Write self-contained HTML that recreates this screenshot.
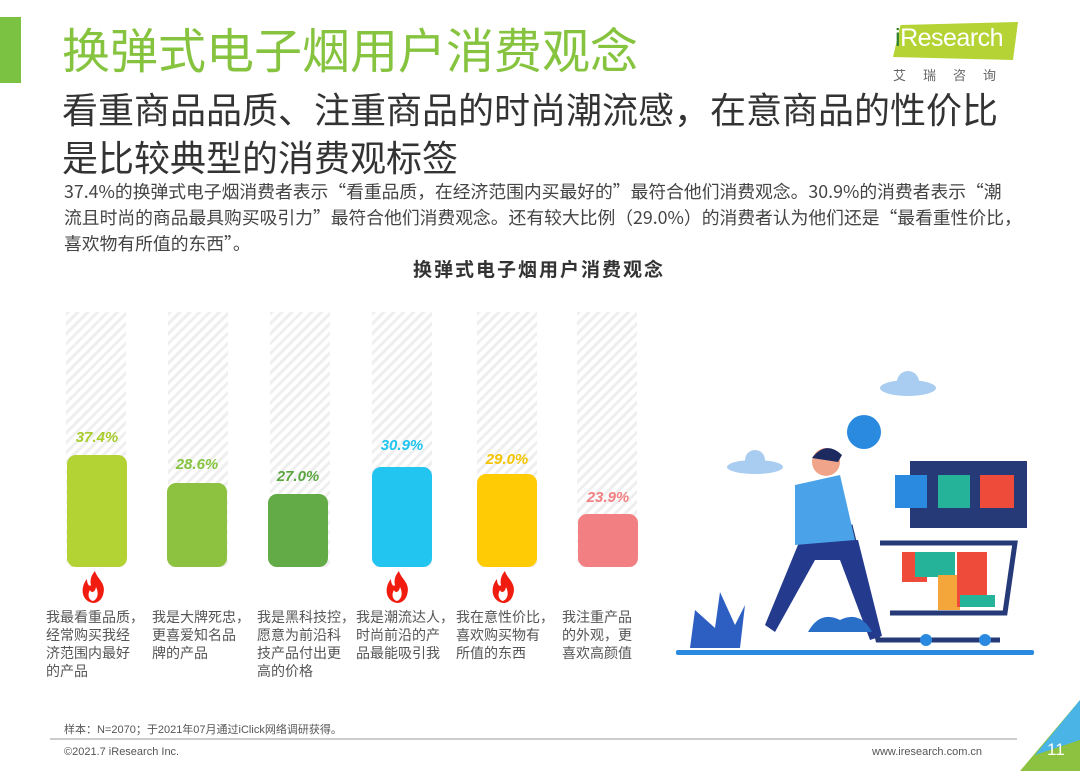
<!DOCTYPE html>
<html><head><meta charset="utf-8"><style>
body{margin:0;width:1080px;height:771px;background:#fff;position:relative;overflow:hidden;font-family:"Liberation Sans","Noto Sans CJK SC",sans-serif}
.a{position:absolute;white-space:nowrap}
.cj{font-family:"Noto Sans CJK SC","Liberation Sans",sans-serif}
.hatch{position:absolute;top:312px;width:60px;height:255px;background:repeating-linear-gradient(135deg,#efefef 0 3px,#fff 3px 7px)}
.bar{position:absolute;width:60px;bottom:204px;border-radius:9px}
.val{position:absolute;width:80px;text-align:center;font-style:italic;font-weight:bold;font-size:15px}
.lab{position:absolute;top:608px;font-size:14px;line-height:18px;color:#555;white-space:nowrap}
</style></head><body>
<div class="a" style="left:0;top:17px;width:21px;height:66px;background:#7cc242"></div>
<div class="a cj" style="left:62px;top:14px;font-size:48px;color:#86c440;line-height:66px">换弹式电子烟用户消费观念</div>
<div class="a cj" style="left:62px;top:84px;font-size:36px;color:#333;line-height:48px">看重商品品质、注重商品的时尚潮流感，在意商品的性价比<br>是比较典型的消费观标签</div>
<div class="a cj" style="left:64px;top:178px;font-size:17.8px;color:#444;line-height:26px">37.4%的换弹式电子烟消费者表示“看重品质，在经济范围内买最好的”最符合他们消费观念。30.9%的消费者表示“潮<br>流且时尚的商品最具购买吸引力”最符合他们消费观念。还有较大比例（29.0%）的消费者认为他们还是“最看重性价比，<br>喜欢物有所值的东西”。</div>
<div class="a cj" style="left:413px;top:255px;font-size:19px;letter-spacing:2px;font-weight:bold;color:#333">换弹式电子烟用户消费观念</div>
<div class="a" style="left:893px;top:22px;width:125px;height:38px;background:#b5d334;clip-path:polygon(6% 8%,100% 0,96% 100%,0 92%)"></div>
<div class="a" style="left:895px;top:24px;font-size:25px;color:#fff;letter-spacing:-0.5px"><span style="color:#2e7d32">i</span>Research</div>
<div class="a" style="left:893px;top:65px;font-size:13px;color:#666;letter-spacing:17px">艾瑞咨询</div>

<div class="hatch" style="left:66px"></div><div class="hatch" style="left:168px"></div><div class="hatch" style="left:270px"></div><div class="hatch" style="left:372px"></div><div class="hatch" style="left:477px"></div><div class="hatch" style="left:577px"></div>
<div class="bar" style="left:67px;height:112px;background:#b3d334"></div>
<div class="bar" style="left:167px;height:84px;background:#8cc23f"></div>
<div class="bar" style="left:268px;height:73px;background:#62ab46"></div>
<div class="bar" style="left:372px;height:100px;background:#22c4f0"></div>
<div class="bar" style="left:477px;height:93px;background:#ffcb05"></div>
<div class="bar" style="left:578px;height:53px;background:#f27f82"></div>
<div class="val" style="left:57px;top:429px;color:#a8cc2c">37.4%</div>
<div class="val" style="left:157px;top:456px;color:#86c440">28.6%</div>
<div class="val" style="left:258px;top:468px;color:#5aa540">27.0%</div>
<div class="val" style="left:362px;top:437px;color:#22c4f0">30.9%</div>
<div class="val" style="left:467px;top:451px;color:#f5c400">29.0%</div>
<div class="val" style="left:568px;top:489px;color:#f27f82">23.9%</div>
<div class="lab" style="left:46px">我最看重品质，<br>经常购买我经<br>济范围内最好<br>的产品</div>
<div class="lab" style="left:152px">我是大牌死忠，<br>更喜爱知名品<br>牌的产品</div>
<div class="lab" style="left:257px">我是黑科技控，<br>愿意为前沿科<br>技产品付出更<br>高的价格</div>
<div class="lab" style="left:356px">我是潮流达人，<br>时尚前沿的产<br>品最能吸引我</div>
<div class="lab" style="left:456px">我在意性价比，<br>喜欢购买物有<br>所值的东西</div>
<div class="lab" style="left:562px">我注重产品<br>的外观，更<br>喜欢高颜值</div>

<svg class="a" style="left:0;top:0" width="1080" height="771">
<defs><path id="f" d="M0 30 C-12 28 -13 14 -6 6 C-6 12 -3 14 -2 12 C-4 4 2 -2 2 -2 C4 6 14 10 10 22 C8 28 4 30 0 30 Z M0 28 C5 26 6 20 3 14 C2 20 -2 20 -3 17 C-6 22 -4 27 0 28Z" fill="#f01c10" fill-rule="evenodd"/></defs>
<use href="#f" x="93" y="573"/><use href="#f" x="397" y="573"/><use href="#f" x="503" y="573"/>
<g fill="#a9cdf0"><ellipse cx="908" cy="388" rx="28" ry="8"/><circle cx="908" cy="382" r="11"/><ellipse cx="755" cy="467" rx="28" ry="7"/><circle cx="755" cy="460" r="10"/></g>
<circle cx="864" cy="432" r="17" fill="#2a8ae0"/>
<rect x="910" y="461" width="117" height="67" fill="#263a78"/>
<rect x="895" y="475" width="32" height="33" fill="#2a8ae0"/><rect x="938" y="475" width="32" height="33" fill="#25b39a"/><rect x="980" y="475" width="34" height="33" fill="#ee4b3b"/>
<rect x="902" y="552" width="25" height="30" fill="#ee4b3b"/><rect x="915" y="552" width="40" height="25" fill="#25b39a"/><rect x="938" y="575" width="22" height="35" fill="#f4a63a"/><rect x="957" y="552" width="30" height="55" fill="#ee4b3b"/><rect x="960" y="595" width="35" height="12" fill="#25b39a"/>
<path d="M850 525 L878 640 L1000 640 M880 543 L1015 543 L1005 613 L890 613" stroke="#263a78" stroke-width="5" fill="none"/>
<circle cx="926" cy="640" r="6" fill="#2a8ae0"/><circle cx="985" cy="640" r="6" fill="#2a8ae0"/>
<path d="M800 540 L765 625 L775 632 L815 560 L840 560 L870 640 L882 636 L858 540 Z" fill="#243a8c"/>
<path d="M795 485 L840 475 L855 540 L795 545 Z" fill="#4aa3e8"/>
<circle cx="826" cy="462" r="14" fill="#f0a58a"/><path d="M812 458 Q826 440 842 455 L838 462 Z" fill="#1c2a60"/>
<path d="M808 632 Q820 610 840 620 Q860 610 872 632 Z" fill="#2a6fc7"/>
<path d="M690 648 L695 610 L715 628 L720 592 L735 625 L745 605 L740 648 Z" fill="#2d5fc2"/>
<rect x="676" y="650" width="358" height="5" rx="2" fill="#2a8ae0"/>
<line x1="50" y1="739" x2="1017" y2="739" stroke="#999" stroke-width="1"/>
<polygon points="1080,700 1080,771 1020,771" fill="#8cc23f"/><polygon points="1080,700 1035,755 1080,740" fill="#4ab4e6"/>
</svg>
<div class="a" style="left:64px;top:721px;font-size:11px;color:#555">样本：N=2070；于2021年07月通过iClick网络调研获得。</div>
<div class="a" style="left:64px;top:746px;font-size:11px;color:#555">©2021.7 iResearch Inc.</div>
<div class="a" style="left:872px;top:746px;font-size:11px;color:#555">www.iresearch.com.cn</div>
<div class="a" style="left:1047px;top:740px;font-size:17px;color:#fff">11</div>
</body></html>
